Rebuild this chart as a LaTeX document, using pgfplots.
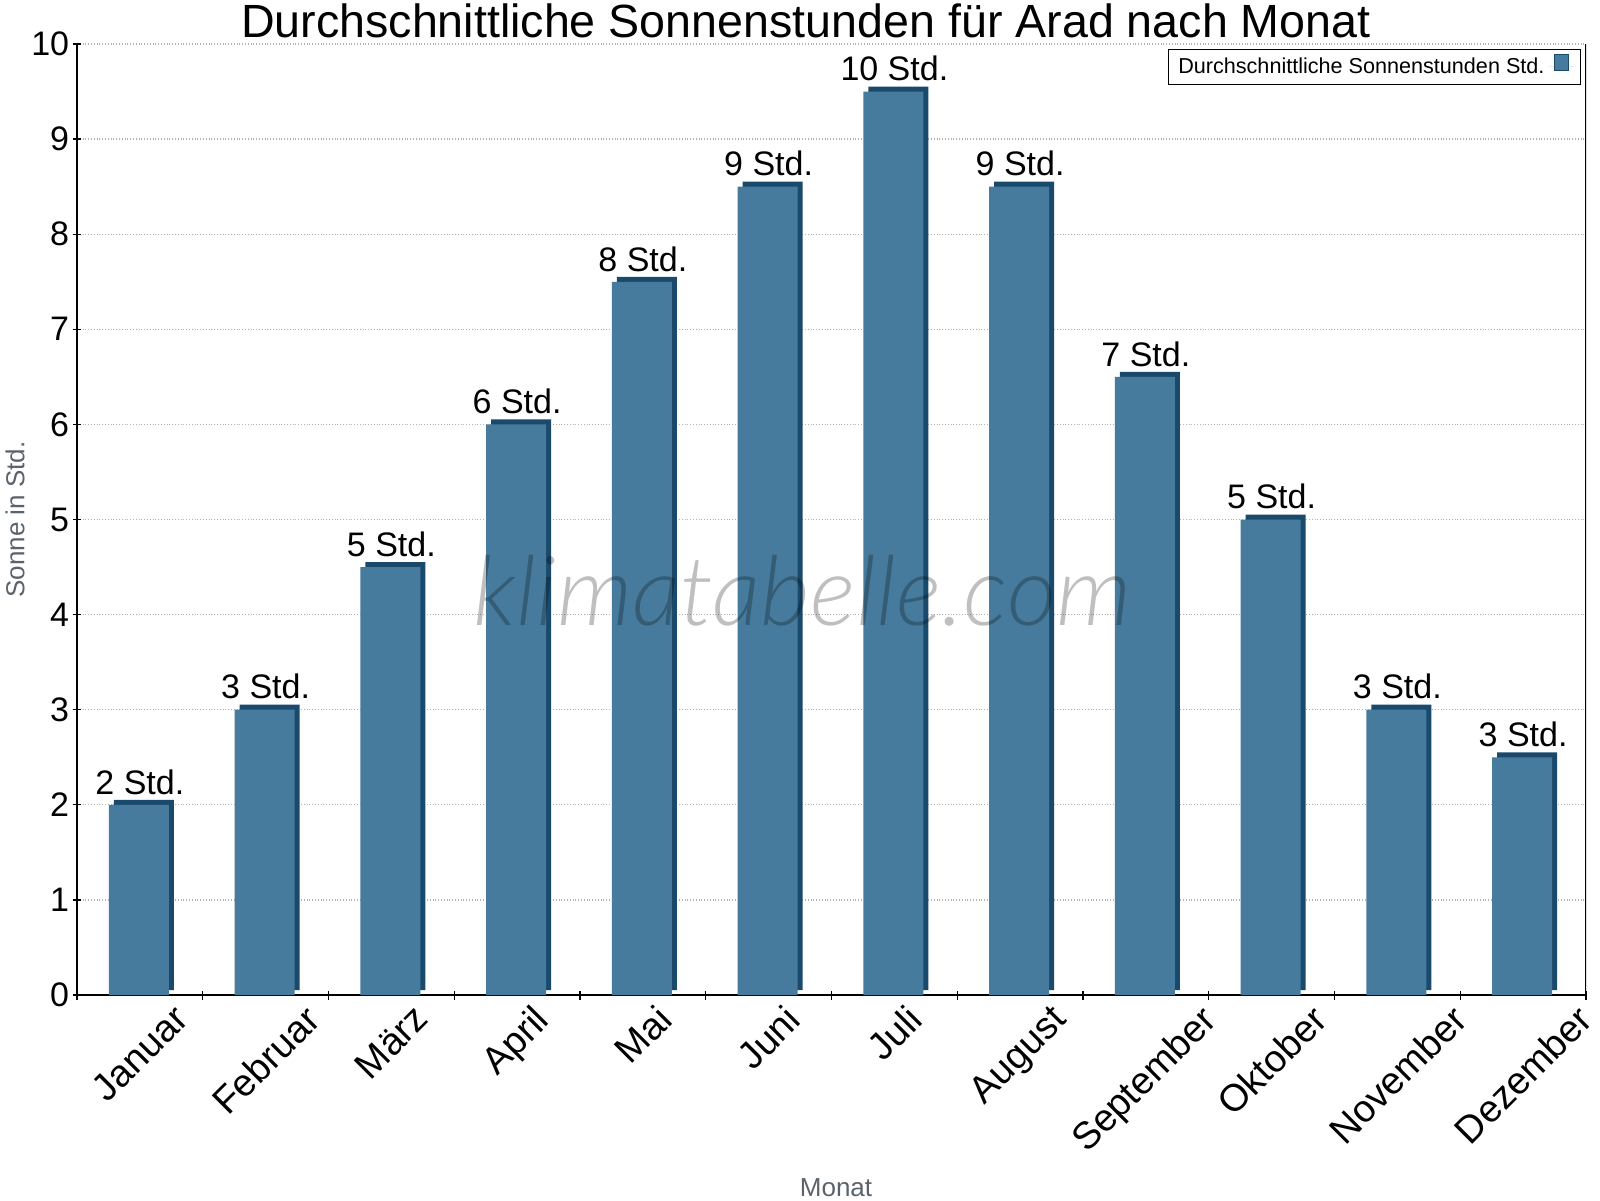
\documentclass[border=0pt]{standalone}
\usepackage{fontspec}
\setmainfont{Liberation Sans}
\newfontfamily\wmfont{Lato Light}
\usepackage{graphicx}
\usepackage{pgfplots}
\pgfplotsset{compat=1.18}

\definecolor{barfront}{HTML}{467B9D}
\definecolor{barside}{HTML}{1A4A6B}
\definecolor{labelgray}{HTML}{5A636B}

\begin{document}
\begin{tikzpicture}
\begin{axis}[
  at={(0,0)}, anchor=south west,
  scale only axis,
  width=754.5pt, height=475.5pt,
  xmin=-0.5, xmax=11.5, ymin=0, ymax=10,
  axis lines=left,
  axis line style={-, line width=0.7pt},
  tick align=center,
  major tick length=4.5pt, minor tick length=4.5pt,
  tick style={black, line width=0.6pt},
  /pgf/number format/assume math mode=true,
  xtick={0,...,11},
  major x tick style={draw=none},
  minor xtick={-0.5,0.5,...,11.5},
  xticklabels={\rotatebox{45}{Januar},\rotatebox{45}{Februar},\rotatebox{45}{März},
    \rotatebox{45}{April},\rotatebox{45}{Mai},\rotatebox{45}{Juni},\rotatebox{45}{Juli},
    \rotatebox{45}{August},\rotatebox{45}{September},\rotatebox{45}{Oktober},
    \rotatebox{45}{November},\rotatebox{45}{Dezember}},
  xticklabel style={anchor=north, inner sep=0pt, yshift=-1.5pt,
    font=\fontsize{19}{22}\selectfont},
  ytick={0,...,10},
  yticklabel style={inner sep=0pt, xshift=-1.5pt, font=\fontsize{17}{20}\selectfont},
  ymajorgrids,
  grid style={densely dotted, black!30, line width=0.6pt},
  title={Durchschnittliche Sonnenstunden für Arad nach Monat},
  title style={at={(0.483,1)}, anchor=base, yshift=-3pt,
    font=\fontsize{23.3}{27}\selectfont},
  xlabel={Monat},
  xlabel style={at={(axis description cs:0.503,0)}, anchor=center, yshift=-96.5pt,
    font=\fontsize{13}{15}\selectfont, text=labelgray},
  ylabel={Sonne in Std.},
  ylabel style={at={(axis description cs:-0.0411,0.5)}, anchor=center,
    font=\fontsize{13}{15}\selectfont, text=labelgray},
  legend style={at={(1,1)}, anchor=north east, xshift=-2.5pt, yshift=-2.5pt,
    draw=black, line width=0.5pt, inner xsep=3pt, inner ysep=2pt,
    font=\fontsize{10.8}{12}\selectfont},
  legend plot pos=right,
  legend cell align=left,
]
% dark side and top of the 3D bars
\addplot[ybar, bar width=30pt, bar shift=2pt, yshift=2.5pt,
  fill=barside, draw=none, forget plot] coordinates {
  (0,2) (1,3) (2,4.5) (3,6) (4,7.5) (5,8.5)
  (6,9.5) (7,8.5) (8,6.5) (9,5) (10,3) (11,2.5)
};
% front faces with value labels
\addplot[ybar, bar width=30pt, bar shift=-0.5pt, fill=barfront, draw=none,
  point meta=explicit symbolic,
  nodes near coords,
  nodes near coords style={anchor=south, inner sep=0pt, yshift=5pt,
    font=\fontsize{17}{20}\selectfont, text=black},
  legend image code/.code={
    \path (0pt,0pt) -- (13pt,0pt);
    \draw[fill=barfront, draw=barside, line width=0.6pt] (3pt,-2pt) rectangle (10pt,6pt);}
] coordinates {
  (0,2) [2 Std.]
  (1,3) [3 Std.]
  (2,4.5) [5 Std.]
  (3,6) [6 Std.]
  (4,7.5) [8 Std.]
  (5,8.5) [9 Std.]
  (6,9.5) [10 Std.]
  (7,8.5) [9 Std.]
  (8,6.5) [7 Std.]
  (9,5) [5 Std.]
  (10,3) [3 Std.]
  (11,2.5) [3 Std.]
};
\addlegendentry{Durchschnittliche Sonnenstunden Std.}
\draw[line width=0.7pt] (rel axis cs:1,0) -- (rel axis cs:1,1);
\node[anchor=base, font=\wmfont\itshape\fontsize{48.3}{54}\selectfont,
  text=black, text opacity=0.25] at (axis cs:5.27,3.89) {klimatabelle.com};
\end{axis}
\pgfresetboundingbox
\path ([shift={(-38.5pt,-102.5pt)}]current axis.south west)
  rectangle ([shift={(761.5pt,497.5pt)}]current axis.south west);
\end{tikzpicture}
\end{document}
